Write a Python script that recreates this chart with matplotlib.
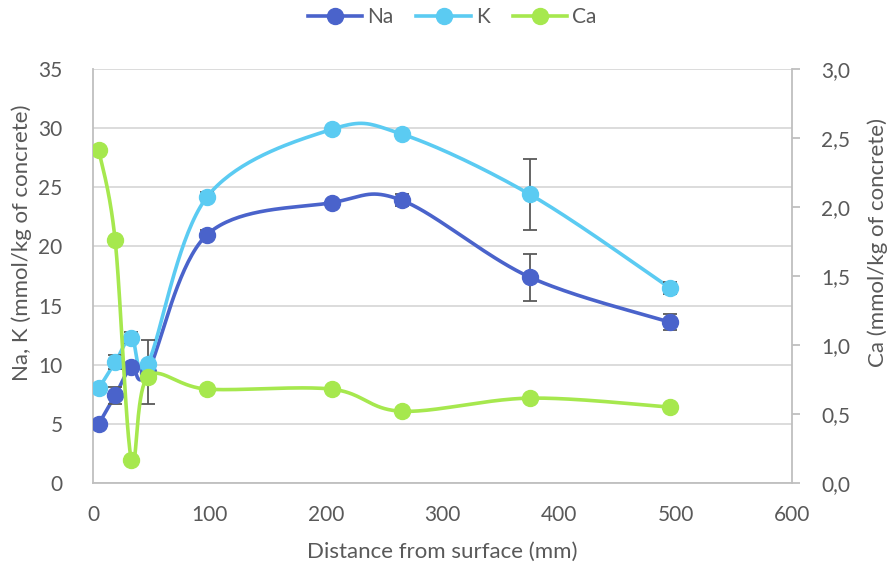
import numpy as np
import matplotlib
matplotlib.use("Agg")
import matplotlib.pyplot as plt
from matplotlib.ticker import FuncFormatter, MultipleLocator
from matplotlib.lines import Line2D

plt.rcParams['font.family'] = ['Lato', 'DejaVu Sans']

# data
distance = [5, 19, 33, 47, 98, 205, 265, 375, 495]
na = [5.0, 7.4, 9.8, 9.4, 21.0, 23.7, 23.9, 17.4, 13.6]
na_err = [0.0, 0.75, 0.0, 2.7, 0.4, 0.0, 0.5, 2.0, 0.7]
k = [8.0, 10.2, 12.3, 10.1, 24.2, 29.9, 29.5, 24.4, 16.5]
k_err = [0.0, 0.6, 0.5, 0.0, 0.4, 0.0, 0.0, 3.0, 0.5]
ca = [2.41, 1.76, 0.165, 0.77, 0.68, 0.68, 0.52, 0.615, 0.55]

na_color = '#4A63CB'
k_color = '#5BCBF2'
ca_color = '#A6E84E'
text_color = '#595959'
axis_color = '#BFBFBF'
grid_color = '#D9D9D9'


def smooth(ax, xs, ys, n=40):
    # Excel-like smoothed line, computed in screen space
    pts = ax.transData.transform(np.column_stack([xs, ys]))
    out = []
    m = len(pts)
    for i in range(m - 1):
        p0 = pts[i - 1] if i > 0 else pts[i]
        p1 = pts[i]
        p2 = pts[i + 1]
        p3 = pts[i + 2] if i + 2 < m else pts[i + 1]
        c1 = p1 + (p2 - p0) / 6
        c2 = p2 - (p3 - p1) / 6
        t = np.linspace(0, 1, n)[:, None]
        seg = ((1 - t) ** 3) * p1 + 3 * ((1 - t) ** 2) * t * c1 + 3 * (1 - t) * t ** 2 * c2 + t ** 3 * p2
        out.append(seg if i == 0 else seg[1:])
    out = np.vstack(out)
    return ax.transData.inverted().transform(out)


fig = plt.figure(figsize=(8.9, 5.72), dpi=100)
ax = fig.add_axes([0.1045, 0.1556, 0.7854, 0.7238])
ax2 = ax.twinx()

ax.set_xlim(0, 600)
ax.set_ylim(0, 35)
ax2.set_ylim(0, 3.0)

lw = 2.6
ms = 11.5

for vals, err, col in [(na, na_err, na_color), (k, k_err, k_color)]:
    curve = smooth(ax, distance, vals)
    ax.plot(curve[:, 0], curve[:, 1], color=col, lw=lw, zorder=3, solid_capstyle='round')
    # only points that have an error bar
    ex = [d for d, e in zip(distance, err) if e > 0]
    ey = [v for v, e in zip(vals, err) if e > 0]
    ee = [e for e in err if e > 0]
    ax.errorbar(ex, ey, yerr=ee, fmt='none', ecolor='#595959',
                elinewidth=1.3, capsize=5, capthick=1.3, zorder=3.5)
    ax.plot(distance, vals, 'o', color=col, ms=ms, zorder=4)

curve = smooth(ax2, distance, ca)
ax2.plot(curve[:, 0], curve[:, 1], color=ca_color, lw=lw, zorder=3, solid_capstyle='round')
ax2.plot(distance, ca, 'o', color=ca_color, ms=ms, zorder=4)

# axes styling
ax.yaxis.set_major_locator(MultipleLocator(5))
ax.xaxis.set_major_locator(MultipleLocator(100))
ax2.yaxis.set_major_locator(MultipleLocator(0.5))
ax2.yaxis.set_major_formatter(FuncFormatter(lambda v, p: f"{v:.1f}".replace('.', ',')))

ax.grid(axis='y', color=grid_color, lw=1.3)
ax.set_axisbelow(True)

for a in (ax, ax2):
    a.spines['top'].set_visible(False)
    for s in ('left', 'right', 'bottom'):
        a.spines[s].set_color(axis_color)
        a.spines[s].set_linewidth(1.3)
ax.spines['right'].set_visible(False)
ax2.spines['left'].set_visible(False)
ax2.spines['bottom'].set_visible(False)

fs_tick = 15
fs_label = 16
ax.tick_params(axis='y', length=0, labelsize=fs_tick, labelcolor=text_color, pad=22)
ax.tick_params(axis='x', length=0, labelsize=fs_tick, labelcolor=text_color, pad=16)
ax2.tick_params(axis='y', length=6, width=1.3, color=axis_color, labelsize=fs_tick,
                labelcolor=text_color, pad=15)

ax.set_xlabel('Distance from surface (mm)', fontsize=fs_label, color=text_color)
ax.set_ylabel('Na, K (mmol/kg of concrete)', fontsize=fs_label, color=text_color)
ax2.set_ylabel('Ca (mmol/kg of concrete)', fontsize=fs_label, color=text_color)
ax.xaxis.set_label_coords(0.5, -0.167)
ax.yaxis.set_label_coords(-0.1016, 0.58)
ax2.yaxis.set_label_coords(1.123, 0.58)
ax.yaxis.label.set_va('center')
ax2.yaxis.label.set_va('center')
ax.xaxis.label.set_va('center')

handles = [Line2D([], [], color=c, lw=lw, marker='o', ms=ms) for c in (na_color, k_color, ca_color)]
fig.legend(handles, ['Na', 'K', 'Ca'], loc='center', bbox_to_anchor=(0.508, 0.97), ncol=3,
           frameon=False, fontsize=fs_tick, labelcolor=text_color, handlelength=2.6,
           columnspacing=1.1, handletextpad=0.25)

fig.savefig('out.png', dpi=100)
